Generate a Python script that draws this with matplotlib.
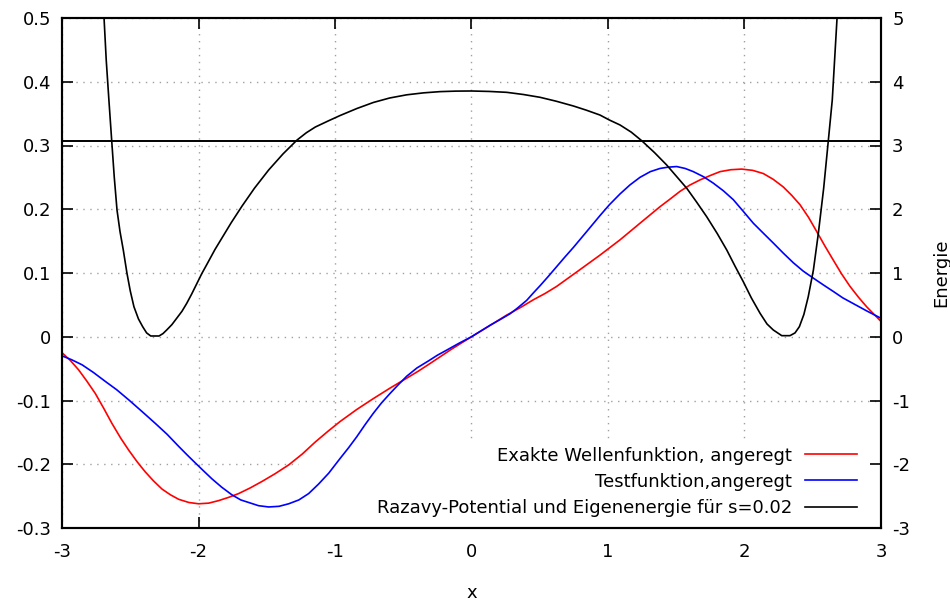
import numpy as np
import matplotlib.pyplot as plt
import matplotlib as mpl
from matplotlib.patches import Rectangle

mpl.rcParams.update({"font.size": 13, "font.family": "DejaVu Sans"})

# exakte Wellenfunktion (angeregt)
x_exact = [-3.0, -2.94, -2.878, -2.82, -2.756, -2.695, -2.634, -2.57, -2.511, -2.45,
           -2.39, -2.33, -2.267, -2.205, -2.145, -2.07, -1.999, -1.925, -1.852, -1.78,
           -1.706, -1.62, -1.535, -1.44, -1.339, -1.24, -1.144, -1.05, -0.963, -0.84,
           -0.719, -0.6, -0.475, -0.39, -0.304, -0.15, 0.0, 0.13, 0.258, 0.36,
           0.453, 0.54, 0.624, 0.78, 0.941, 1.088, 1.234, 1.381, 1.455, 1.527,
           1.6, 1.674, 1.75, 1.821, 1.9, 1.979, 2.06, 2.138, 2.21, 2.284,
           2.345, 2.407, 2.47, 2.529, 2.59, 2.651, 2.71, 2.773, 2.835, 2.895, 3.0]
y_exact = [-0.025, -0.037, -0.052, -0.069, -0.089, -0.112, -0.136, -0.159, -0.178, -0.196,
           -0.212, -0.226, -0.239, -0.248, -0.255, -0.26, -0.262, -0.261, -0.257, -0.252,
           -0.246, -0.237, -0.227, -0.215, -0.201, -0.184, -0.165, -0.148, -0.133, -0.114,
           -0.097, -0.081, -0.065, -0.054, -0.042, -0.02, 0.0, 0.017, 0.034, 0.046,
           0.058, 0.068, 0.079, 0.103, 0.128, 0.152, 0.178, 0.204, 0.216, 0.228,
           0.238, 0.246, 0.253, 0.259, 0.262, 0.263, 0.261, 0.256, 0.247, 0.235,
           0.222, 0.207, 0.187, 0.165, 0.142, 0.12, 0.099, 0.079, 0.062, 0.047, 0.024]

# Testfunktion
x_test = [-3.0, -2.93, -2.853, -2.77, -2.683, -2.6, -2.511, -2.41, -2.316, -2.23,
          -2.145, -2.085, -2.023, -1.96, -1.901, -1.83, -1.755, -1.69, -1.632, -1.56,
          -1.486, -1.41, -1.339, -1.265, -1.193, -1.12, -1.046, -0.963, -0.9, -0.841,
          -0.78, -0.719, -0.66, -0.597, -0.535, -0.475, -0.4, -0.316, -0.25, -0.182,
          -0.09, 0.0, 0.068, 0.136, 0.21, 0.282, 0.331, 0.404, 0.45, 0.502,
          0.56, 0.62, 0.68, 0.746, 0.84, 0.941, 1.01, 1.088, 1.16, 1.234,
          1.31, 1.381, 1.44, 1.503, 1.565, 1.625, 1.7, 1.771, 1.845, 1.918,
          1.99, 2.065, 2.14, 2.211, 2.285, 2.358, 2.43, 2.504, 2.58, 2.651,
          2.72, 2.797, 2.9, 3.0]
y_test = [-0.03, -0.036, -0.044, -0.056, -0.07, -0.083, -0.099, -0.118, -0.136, -0.153,
          -0.172, -0.185, -0.198, -0.211, -0.223, -0.236, -0.248, -0.256, -0.26, -0.265,
          -0.267, -0.266, -0.262, -0.256, -0.246, -0.231, -0.214, -0.191, -0.174, -0.157,
          -0.138, -0.12, -0.104, -0.089, -0.075, -0.062, -0.049, -0.038, -0.029, -0.021,
          -0.01, 0.0, 0.009, 0.018, 0.027, 0.036, 0.044, 0.057, 0.068, 0.08,
          0.094, 0.109, 0.124, 0.14, 0.164, 0.19, 0.207, 0.224, 0.238, 0.25,
          0.259, 0.264, 0.266, 0.267, 0.264, 0.259, 0.251, 0.241, 0.229, 0.215,
          0.197, 0.178, 0.162, 0.147, 0.131, 0.116, 0.103, 0.092, 0.081, 0.071,
          0.061, 0.052, 0.04, 0.029]

# Razavy-Potential
x_pot = [-2.692, -2.676, -2.656, -2.636, -2.617, -2.597, -2.575, -2.551, -2.524, -2.5,
         -2.473, -2.44, -2.409, -2.38, -2.35, -2.289, -2.26, -2.233, -2.195, -2.16,
         -2.121, -2.086, -2.05, -2.013, -1.976, -1.94, -1.879, -1.828, -1.76, -1.681,
         -1.59, -1.486, -1.38, -1.278, -1.21, -1.144, -1.05, -0.963, -0.84, -0.719,
         -0.6, -0.475, -0.35, -0.231, -0.115, 0.0, 0.13, 0.258, 0.38, 0.502,
         0.62, 0.746, 0.84, 0.941, 1.01, 1.088, 1.17, 1.247, 1.34, 1.43,
         1.5, 1.577, 1.65, 1.723, 1.8, 1.87, 1.93, 1.991, 2.05, 2.114,
         2.165, 2.211, 2.273, 2.333, 2.37, 2.402, 2.435, 2.467, 2.505, 2.541,
         2.58, 2.614, 2.643, 2.678]
e_pot = [5.0, 4.341, 3.7, 3.08, 2.5, 1.988, 1.65, 1.361, 0.995, 0.72,
         0.471, 0.28, 0.158, 0.06, 0.012, 0.012, 0.05, 0.106, 0.19, 0.289,
         0.4, 0.525, 0.67, 0.83, 0.99, 1.13, 1.37, 1.55, 1.79, 2.05,
         2.33, 2.616, 2.87, 3.086, 3.2, 3.29, 3.385, 3.47, 3.58, 3.675,
         3.745, 3.795, 3.826, 3.845, 3.853, 3.855, 3.848, 3.834, 3.8, 3.756,
         3.695, 3.62, 3.555, 3.478, 3.4, 3.322, 3.21, 3.075, 2.89, 2.694,
         2.52, 2.329, 2.11, 1.883, 1.62, 1.361, 1.11, 0.864, 0.61, 0.368,
         0.2, 0.106, 0.017, 0.017, 0.06, 0.158, 0.35, 0.628, 1.05, 1.622,
         2.33, 3.075, 3.714, 5.0]
eigen_energy = 3.07

fig = plt.figure(figsize=(9.5, 6.04), dpi=100)
ax = fig.add_axes([62/950, 76/604, 819/950, 510/604])
ax2 = ax.twinx()

ax.set_axisbelow(True)
ax.grid(True, color="#a0a0a0", linestyle=(0, (1, 4)), linewidth=1)
# key area is opaque like in gnuplot
ax.add_patch(Rectangle((0.289, 0), 0.711, 0.171, transform=ax.transAxes,
                       facecolor="white", edgecolor="none", zorder=1))

l1, = ax.plot(x_exact, y_exact, color="red", lw=1.2, zorder=2)
l2, = ax.plot(x_test, y_test, color="blue", lw=1.2, zorder=2)
l3, = ax2.plot(x_pot, e_pot, color="black", lw=1.2)
ax2.axhline(eigen_energy, color="black", lw=1.4)

ax.set_xlim(-3, 3)
ax.set_ylim(-0.3, 0.5)
ax2.set_ylim(-3, 5)
ax.set_xticks([-3, -2, -1, 0, 1, 2, 3])
ax.set_yticks(np.round(np.arange(-0.3, 0.51, 0.1), 1))
ax.set_yticklabels(["-0.3", "-0.2", "-0.1", "0", "0.1", "0.2", "0.3", "0.4", "0.5"])
ax.set_xticklabels(["-3", "-2", "-1", "0", "1", "2", "3"])
ax2.set_yticks(range(-3, 6))
ax2.set_yticklabels([str(v) for v in range(-3, 6)])

ax.tick_params(axis="x", direction="in", length=8, width=1.2, top=True, pad=11)
ax.tick_params(axis="y", direction="in", length=8, width=1.2, right=False, pad=8)
ax2.tick_params(axis="y", direction="in", length=8, width=1.2, pad=8)
for a in (ax, ax2):
    for s in a.spines.values():
        s.set_linewidth(1.5)

ax.set_xlabel("x", labelpad=16)
ax2.set_ylabel("Energie", labelpad=16)

ax2.legend([l1, l2, l3],
           ["Exakte Wellenfunktion, angeregt", "Testfunktion,angeregt",
            "Razavy-Potential und Eigenenergie für s=0.02"],
           loc="lower right", bbox_to_anchor=(0.982, 0.004), frameon=False,
           markerfirst=False, borderpad=0, handlelength=2.9, handletextpad=0.7,
           labelspacing=0.45)

fig.savefig("out.png")
